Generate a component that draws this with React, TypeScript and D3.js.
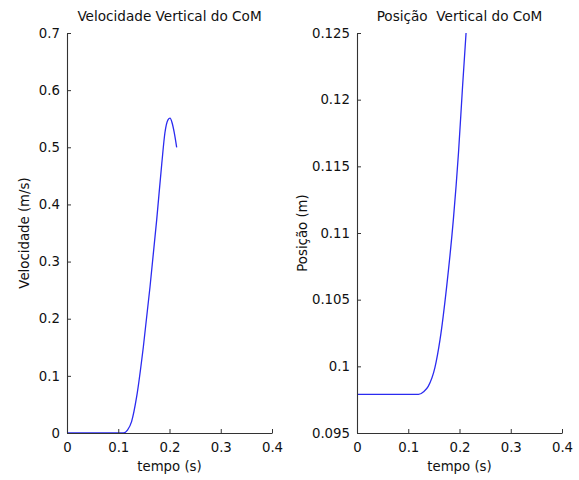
import React, { useEffect, useRef } from "react";
import * as d3 from "d3";

const W = 579;
const H = 480;

const xTicks = [0, 0.1, 0.2, 0.3, 0.4];
const velTicks = [0, 0.1, 0.2, 0.3, 0.4, 0.5, 0.6, 0.7];
const posTicks = [0.095, 0.1, 0.105, 0.11, 0.115, 0.12, 0.125];

const velTime = [0, 0.11, 0.118, 0.126, 0.136, 0.149, 0.162, 0.175, 0.185, 0.191, 0.197, 0.201, 0.205, 0.209, 0.214];
const velValues = [0, 0, 0.005, 0.02, 0.064, 0.151, 0.256, 0.373, 0.472, 0.525, 0.548, 0.551, 0.543, 0.527, 0.5];

const posTime = [0, 0.12, 0.13, 0.139, 0.152, 0.162, 0.175, 0.188, 0.198, 0.206, 0.2128];
const posValues = [0.0979, 0.0979, 0.0981, 0.0985, 0.0999, 0.102, 0.106, 0.111, 0.116, 0.121, 0.125];

const titles = ["Velocidade Vertical do CoM", "Posição  Vertical do CoM"];
const yLabels = ["Velocidade (m/s)", "Posição (m)"];
const xLabel = "tempo (s)";

const FONT = "'DejaVu Sans', sans-serif";
const LINE = "#2b2bf0";
const AXIS = "#333";

type PanelProps = {
  left: number;
  right: number;
  top: number;
  bottom: number;
  yDomain: [number, number];
  yTickVals: number[];
  tx: number[];
  ty: number[];
  title: string;
  yLabel: string;
  yLabelX: number;
};

function Panel(p: PanelProps) {
  const xRef = useRef<SVGGElement>(null);
  const yRef = useRef<SVGGElement>(null);
  const x = d3.scaleLinear().domain([0, 0.4]).range([p.left, p.right]);
  const y = d3.scaleLinear().domain(p.yDomain).range([p.bottom, p.top]);
  const fmt = d3.format("~g");

  useEffect(() => {
    const gx = d3.select(xRef.current!);
    gx.selectAll("*").remove();
    gx.call(
      d3.axisBottom(x).tickValues(xTicks).tickSize(-4).tickSizeOuter(0).tickPadding(10).tickFormat((d: any) => fmt(d))
    );
    const gy = d3.select(yRef.current!);
    gy.selectAll("*").remove();
    gy.call(
      d3.axisLeft(y).tickValues(p.yTickVals).tickSize(-4).tickSizeOuter(0).tickPadding(7).tickFormat((d: any) => fmt(d))
    );
    [gx, gy].forEach((g) => {
      g.attr("font-family", FONT).attr("font-size", 13.3);
      g.selectAll("path").attr("stroke", AXIS).attr("stroke-width", 1.1);
      g.selectAll("line").attr("stroke", AXIS);
      g.selectAll("text").attr("fill", "#111");
    });
  });

  const pts: [number, number][] = p.tx.map((t, i) => [t, p.ty[i]]);
  const line = d3
    .line<[number, number]>()
    .x((d) => x(d[0]))
    .y((d) => y(d[1]))
    .curve(d3.curveMonotoneX);

  const cx = (p.left + p.right) / 2;
  const cy = (p.top + p.bottom) / 2;

  return (
    <g>
      <path d={line(pts) || ""} fill="none" stroke={LINE} strokeWidth={1.3} />
      <g ref={xRef} transform={`translate(0,${p.bottom})`} />
      <g ref={yRef} transform={`translate(${p.left},0)`} />
      <text
        x={cx}
        y={21}
        textAnchor="middle"
        fontFamily={FONT}
        fontSize={13.6}
        fill="#111"
        style={{ whiteSpace: "pre" }}
      >
        {p.title}
      </text>
      <text
        x={cx}
        y={471}
        textAnchor="middle"
        fontFamily={FONT}
        fontSize={13.3}
        fill="#111"
      >
        {xLabel}
      </text>
      <text
        transform={`translate(${p.yLabelX},${cy}) rotate(-90)`}
        textAnchor="middle"
        fontFamily={FONT}
        fontSize={13.3}
        fill="#111"
      >
        {p.yLabel}
      </text>
    </g>
  );
}

export default function App() {
  return (
    <svg
      width={W}
      height={H}
      style={{ position: "absolute", left: 0, top: 0, background: "#fff" }}
    >
      <rect width={W} height={H} fill="#fff" />
      <Panel
        left={67}
        right={272}
        top={33}
        bottom={433}
        yDomain={[0, 0.7]}
        yTickVals={velTicks}
        tx={velTime}
        ty={velValues}
        title={titles[0]}
        yLabel={yLabels[0]}
        yLabelX={29}
      />
      <Panel
        left={357}
        right={562}
        top={33}
        bottom={433}
        yDomain={[0.095, 0.125]}
        yTickVals={posTicks}
        tx={posTime}
        ty={posValues}
        title={titles[1]}
        yLabel={yLabels[1]}
        yLabelX={307}
      />
    </svg>
  );
}
